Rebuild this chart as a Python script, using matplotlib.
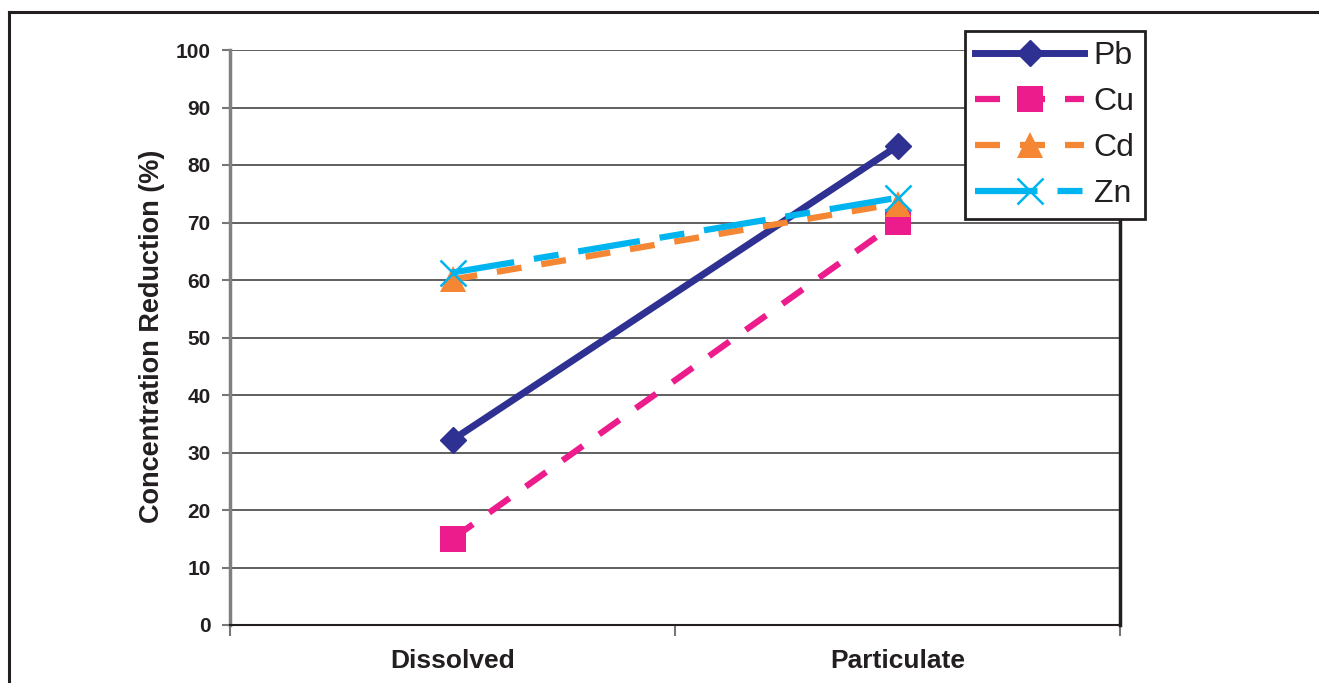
import numpy as np
import matplotlib
matplotlib.use('Agg')
import matplotlib.pyplot as plt
from matplotlib.lines import Line2D

plt.rcParams['font.family'] = ['Liberation Sans', 'DejaVu Sans']

# data
categories = ['Dissolved', 'Particulate']
pb = [32.2, 83.3]
cu = [15.0, 70.1]
cd = [60.1, 73.3]
zn = [61.3, 74.3]
yticks = [0, 10, 20, 30, 40, 50, 60, 70, 80, 90, 100]

fig = plt.figure(figsize=(13.19, 6.83), dpi=100)
ax = fig.add_axes([230/1319, 1 - 625/683, 890/1319, 575/683])

x = np.arange(len(categories))

ax.plot(x, pb, color='#2E3192', lw=5, marker='D', ms=13.5, mec='#2E3192', label='Pb')
ax.plot(x, cu, color='#EC1C8C', lw=4.5, ls=(0, (4, 3.2)), marker='s', ms=18.5,
        mec='#EC1C8C', mew=0, label='Cu')
ax.plot(x, cd, color='#F58634', lw=4.5, ls=(0, (4, 3.2)), marker='^', ms=19,
        mec='#F58634', mew=0, label='Cd')
ax.plot(x, zn, color='#00B5EF', lw=4.5, ls=(0, (10, 3.2, 4, 3.2)), marker='x', ms=19,
        mec='#00B5EF', mew=1.8, label='Zn')

ax.set_xlim(-0.5, 1.5)
ax.set_ylim(0, 100)
ax.set_yticks(yticks)
ax.set_yticklabels([str(v) for v in yticks], fontsize=15, fontweight='bold', color='#231F20')
ax.tick_params(axis='y', length=6, width=1.5, color='#777777', pad=8)

ax.set_xticks(x)
ax.set_xticklabels(categories, fontsize=19, fontweight='bold', color='#231F20')
ax.tick_params(axis='x', which='major', length=0, pad=17)
ax.set_xticks([-0.5, 0.5, 1.5], minor=True)
ax.tick_params(axis='x', which='minor', length=8, width=1.5, color='#777777')

ax.yaxis.grid(True, color='#444444', lw=1.2)
ax.set_axisbelow(True)

ax.spines['top'].set_visible(False)
ax.spines['left'].set_color('#808080')
ax.spines['left'].set_linewidth(2.5)
ax.spines['bottom'].set_color('#231F20')
ax.spines['bottom'].set_linewidth(1.5)
ax.spines['right'].set_color('#231F20')
ax.spines['right'].set_linewidth(2.5)

ax.set_ylabel('Concentration Reduction (%)', fontsize=19.5, fontweight='bold',
              color='#231F20', va='center')
ax.yaxis.set_label_coords(-0.0875, 0.5026)

leg = ax.legend(loc='upper left', bbox_to_anchor=(0.826, 1.033), borderaxespad=0,
                frameon=True, fancybox=False, edgecolor='#231F20', framealpha=1,
                prop={'size': 23}, handlelength=3.4, handletextpad=0.3,
                borderpad=0.32, labelspacing=0.5)
leg.get_frame().set_linewidth(2)
for t in leg.get_texts():
    t.set_color('#231F20')

# outer frame of the figure (cut off at right and bottom)
fig.add_artist(Line2D([8.5/1319, 8.5/1319], [0, 1 - 11.5/683], transform=fig.transFigure,
                      color='#231F20', lw=2.2))
fig.add_artist(Line2D([8.5/1319, 1], [1 - 11.5/683, 1 - 11.5/683], transform=fig.transFigure,
                      color='#231F20', lw=2.2))

fig.savefig('out.png', dpi=100)
